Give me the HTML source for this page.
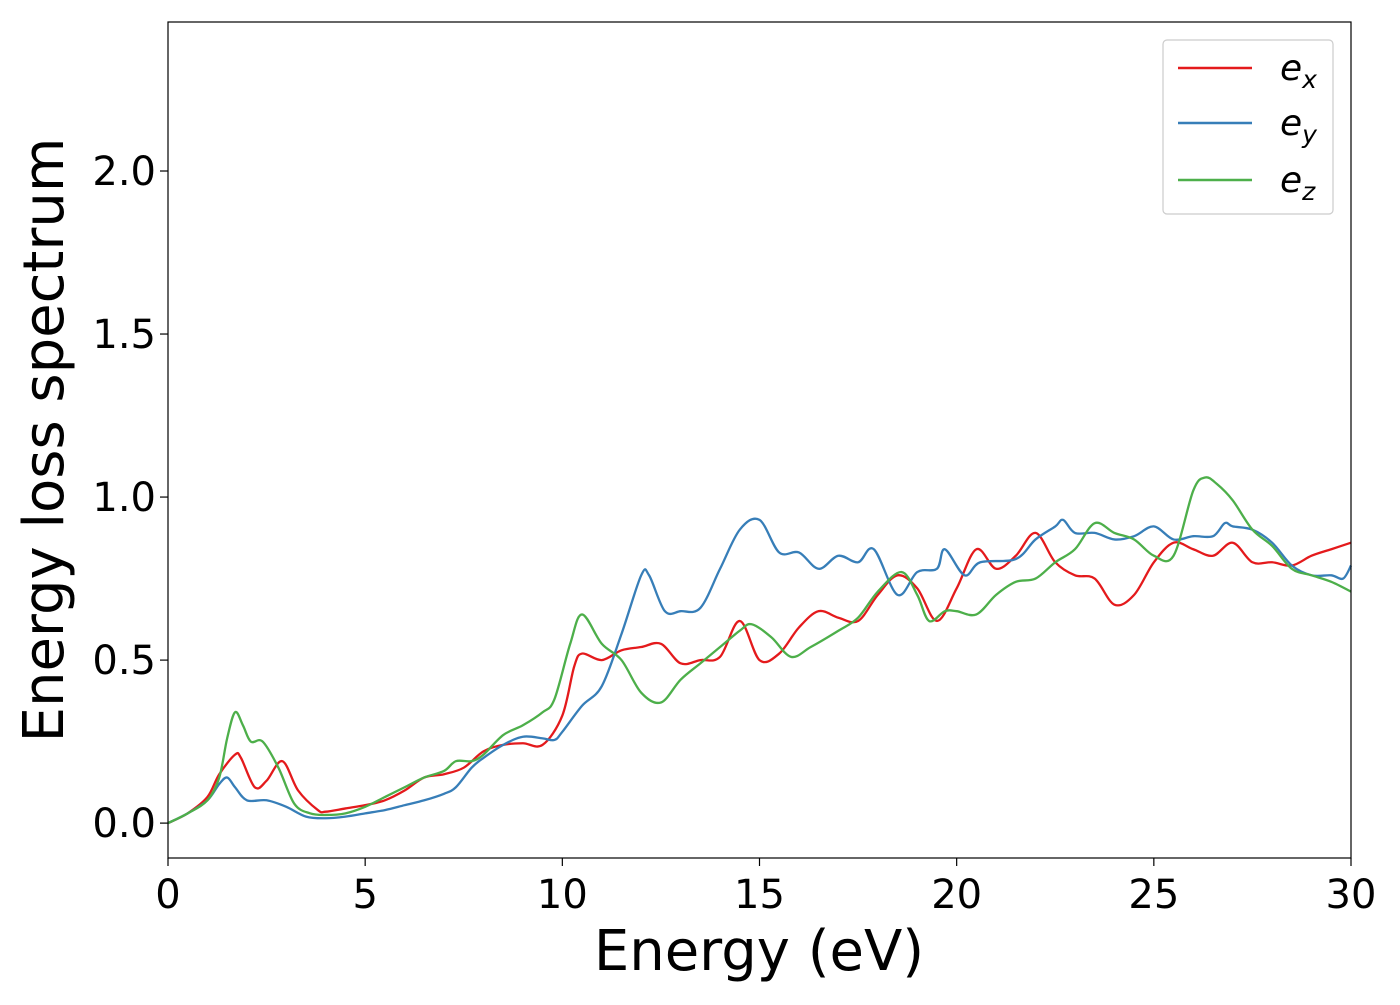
<!DOCTYPE html>
<html><head><meta charset="utf-8"><style>
body{margin:0;background:#fff}
svg text{font-family:"DejaVu Sans","Liberation Sans",sans-serif;fill:#000}
</style></head><body>
<svg id="chart" width="1400" height="1000" viewBox="0 0 1400 1000" xmlns="http://www.w3.org/2000/svg">
<rect x="0" y="0" width="1400" height="1000" fill="#fff"/>
<g id="marks"></g>
<rect x="168" y="22" width="1183" height="836" fill="none" stroke="#000" stroke-width="1.2"/>
<g id="xticks"></g><g id="yticks"></g>
<text x="759" y="970" font-size="56" text-anchor="middle">Energy (eV)</text>
<text transform="translate(63,440) rotate(-90)" font-size="56" text-anchor="middle">Energy loss spectrum</text>
<g>
<rect x="1163" y="40" width="170" height="174" rx="4" fill="#fff" stroke="#ccc" stroke-width="1.2"/>
<line x1="1178" y1="68" x2="1252" y2="68" stroke="#e41a1c" stroke-width="2.5"/>
<text x="1280" y="80" font-size="36" font-style="italic">e<tspan font-size="25" dy="8">x</tspan></text>
<line x1="1178" y1="123" x2="1252" y2="123" stroke="#377eb8" stroke-width="2.5"/>
<text x="1280" y="135" font-size="36" font-style="italic">e<tspan font-size="25" dy="8">y</tspan></text>
<line x1="1178" y1="180" x2="1252" y2="180" stroke="#4daf4a" stroke-width="2.5"/>
<text x="1280" y="192" font-size="36" font-style="italic">e<tspan font-size="25" dy="8">z</tspan></text>
</g>
</svg>
<script>
const xTicks=[0,5,10,15,20,25,30];
const yTicks=[0.0,0.5,1.0,1.5,2.0];
const exX=[0,0.5,1,1.3,1.7,1.85,2.2,2.5,2.9,3.3,3.8,4,4.5,5,5.5,6,6.5,7,7.5,8,8.5,9,9.5,10,10.3,10.5,11,11.5,12,12.5,13,13.5,14,14.5,15,15.5,16,16.5,17,17.5,18,18.5,19,19.5,20,20.5,21,21.5,22,22.5,23,23.5,24,24.5,25,25.5,26,26.5,27,27.5,28,28.5,29,29.5,30];
const exY=[0,0.03,0.08,0.15,0.21,0.2,0.11,0.13,0.19,0.1,0.04,0.035,0.045,0.055,0.07,0.1,0.14,0.15,0.17,0.22,0.24,0.245,0.24,0.33,0.48,0.52,0.5,0.53,0.54,0.55,0.49,0.5,0.51,0.62,0.5,0.52,0.6,0.65,0.63,0.62,0.7,0.76,0.72,0.62,0.72,0.84,0.78,0.82,0.89,0.8,0.76,0.75,0.67,0.7,0.8,0.86,0.84,0.82,0.86,0.8,0.8,0.79,0.82,0.84,0.86];
const eyX=[0,0.5,1,1.3,1.5,1.7,2,2.5,3,3.5,4,4.5,5,5.5,6,6.5,7,7.3,7.7,8,8.5,9,9.5,9.8,10,10.5,11,11.5,12,12.2,12.6,13,13.5,14,14.5,15,15.5,16,16.5,17,17.5,17.9,18.5,19,19.5,19.7,20.2,20.6,21.5,22,22.5,22.7,23,23.5,24,24.5,25,25.5,26,26.5,26.8,27,27.5,28,28.5,29,29.5,29.8,30];
const eyY=[0,0.03,0.07,0.12,0.14,0.11,0.07,0.07,0.05,0.02,0.015,0.02,0.03,0.04,0.055,0.07,0.09,0.11,0.17,0.2,0.24,0.265,0.26,0.255,0.28,0.36,0.42,0.58,0.76,0.76,0.65,0.65,0.66,0.78,0.9,0.93,0.83,0.83,0.78,0.82,0.8,0.84,0.7,0.77,0.78,0.84,0.76,0.8,0.81,0.87,0.91,0.93,0.89,0.89,0.87,0.88,0.91,0.87,0.88,0.88,0.92,0.91,0.9,0.86,0.79,0.76,0.76,0.75,0.79];
const ezX=[0,0.5,1,1.3,1.5,1.7,1.9,2.1,2.4,2.8,3.2,3.6,4,4.5,5,5.5,6,6.5,7,7.3,7.7,8,8.5,9,9.5,9.8,10.2,10.5,11,11.5,12,12.5,13,13.5,14,14.5,14.8,15.3,15.8,16.3,17,17.5,18,18.6,19,19.3,19.7,20,20.5,21,21.5,22,22.5,23,23.5,24,24.5,25,25.5,26,26.3,26.6,27,27.5,28,28.5,29,29.5,30];
const ezY=[0,0.03,0.07,0.14,0.26,0.34,0.3,0.25,0.25,0.17,0.06,0.03,0.025,0.03,0.05,0.08,0.11,0.14,0.16,0.19,0.19,0.21,0.27,0.3,0.34,0.38,0.55,0.64,0.55,0.5,0.4,0.37,0.44,0.49,0.54,0.59,0.61,0.57,0.51,0.54,0.59,0.63,0.71,0.77,0.7,0.62,0.65,0.65,0.64,0.7,0.74,0.75,0.8,0.84,0.92,0.89,0.87,0.82,0.82,1.02,1.06,1.04,0.99,0.9,0.85,0.78,0.76,0.74,0.71];
const NS='http://www.w3.org/2000/svg';
const X0=168,X1=1351,Y0=22,Y1=858,xmin=0,xmax=30,ymin=-0.107,ymax=2.457;
const sx=v=>X0+(v-xmin)/(xmax-xmin)*(X1-X0);
const sy=v=>Y1-(v-ymin)/(ymax-ymin)*(Y1-Y0);
const xt=document.getElementById('xticks'),yt=document.getElementById('yticks'),mk=document.getElementById('marks');
xTicks.forEach(t=>{
 const l=document.createElementNS(NS,'line');
 
 
 l.setAttribute('x1',sx(t));l.setAttribute('x2',sx(t));l.setAttribute('y1',Y1);l.setAttribute('y2',Y1+8);l.setAttribute('stroke','#000');l.setAttribute('stroke-width','1.2');
 xt.appendChild(l);
 const s=document.createElementNS(NS,'text');
 
 
 s.setAttribute('x',sx(t));s.setAttribute('y',908);s.setAttribute('font-size','40');s.setAttribute('text-anchor','middle');
 s.textContent=t;xt.appendChild(s);
});
yTicks.forEach(t=>{
 const l=document.createElementNS(NS,'line');
 
 
 l.setAttribute('x1',X0-8);l.setAttribute('x2',X0);l.setAttribute('y1',sy(t));l.setAttribute('y2',sy(t));l.setAttribute('stroke','#000');l.setAttribute('stroke-width','1.2');
 yt.appendChild(l);
 const s=document.createElementNS(NS,'text');
 
 
 s.setAttribute('x',X0-12);s.setAttribute('y',sy(t)+14);s.setAttribute('font-size','40');s.setAttribute('text-anchor','end');
 s.textContent=t.toFixed(1);yt.appendChild(s);
});
function path(xs,ys){
 const p=xs.map((x,i)=>[sx(x),sy(ys[i])]);
 let d='M'+p[0][0]+','+p[0][1];
 for(let i=0;i<p.length-1;i++){
  const a=p[i-1]||p[i],b=p[i],c=p[i+1],e=p[i+2]||c;
  const c1=[b[0]+(c[0]-a[0])/6,b[1]+(c[1]-a[1])/6],c2=[c[0]-(e[0]-b[0])/6,c[1]-(e[1]-b[1])/6];
  d+=' C'+c1+' '+c2+' '+c;
 }
 return d;
}
[[exX,exY,'#e41a1c','series-ex'],[eyX,eyY,'#377eb8','series-ey'],[ezX,ezY,'#4daf4a','series-ez']].forEach(s=>{
 const el=document.createElementNS(NS,'path');
 
 
 el.setAttribute('d',path(s[0],s[1]));el.setAttribute('fill','none');el.setAttribute('stroke',s[2]);el.setAttribute('stroke-width','2.3');
 mk.appendChild(el);
});
</script>
</body></html>
